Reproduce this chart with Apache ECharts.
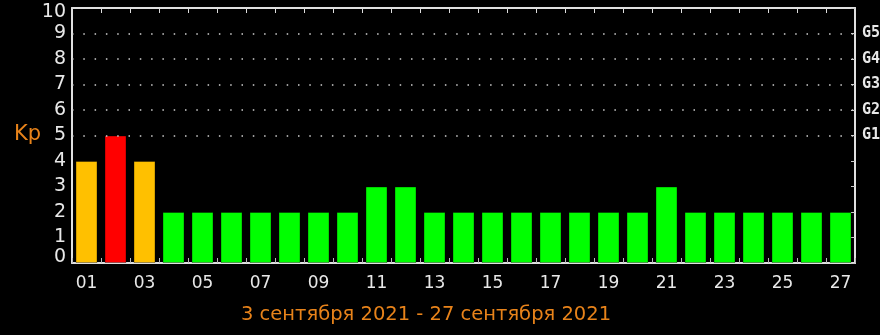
<!DOCTYPE html>
<html>
<head>
<meta charset="utf-8">
<script src="https://cdn.jsdelivr.net/npm/echarts@6/dist/echarts.min.js"></script>
<style>
html,body{margin:0;padding:0;background:#000;}
#chart{width:880px;height:335px;}
</style>
</head>
<body>
<div id="chart"></div>
<script>
const days = ['01','02','03','04','05','06','07','08','09','10','11','12','13','14','15','16','17','18','19','20','21','22','23','24','25','26','27'];
const kpValues = [4,5,4,2,2,2,2,2,2,2,3,3,2,2,2,2,2,2,2,2,3,2,2,2,2,2,2];
const gLevels = {5:'G1',6:'G2',7:'G3',8:'G4',9:'G5'};
const gridValues = [5,6,7,8,9];
const dateRangeText = '3 сентября 2021 - 27 сентября 2021';
const yLabel = 'Kp';

const chart = echarts.init(document.getElementById('chart'));
function barColor(v){
  if (v >= 5) return '#FF0000';
  if (v >= 4) return '#FFC000';
  return '#00FF00';
}
const orange = '#E8831A';
chart.setOption({
  backgroundColor: '#000',
  animation: false,
  title: {
    text: dateRangeText,
    left: 236,
    top: 300,
    textStyle: {color: orange, fontFamily: 'DejaVu Sans', fontSize: 19.5, fontWeight: 'normal'}
  },
  graphic: [{
    type: 'text', left: 14, top: 124,
    style: {text: yLabel, fill: orange, font: '21px "DejaVu Sans"'}
  }],
  grid: {left: 72, right: 25, top: 8, bottom: 72, containLabel: false, outerBoundsMode: 'none'},
  xAxis: [{
    type: 'category', data: days, position: 'bottom',
    axisLine: {show: true, onZero: false, lineStyle: {color: '#e0e0e0', width: 2}},
    axisTick: {show: true, inside: true, length: 5, alignWithLabel: false, interval: 0, lineStyle: {color: '#bbb', width: 1}},
    axisLabel: {interval: 1, color: '#e8e8e8', fontFamily: 'DejaVu Sans', fontSize: 17, margin: 12},
    splitLine: {show: false}
  },{
    type: 'category', data: days, position: 'top',
    axisLine: {show: true, onZero: false, lineStyle: {color: '#e0e0e0', width: 2}},
    axisTick: {show: true, inside: true, length: 5, interval: 0, lineStyle: {color: '#ddd', width: 1}},
    axisLabel: {show: false},
    splitLine: {show: false}
  }],
  yAxis: [{
    type: 'value', min: 0, max: 10, interval: 1, position: 'left',
    axisLine: {show: true, onZero: false, lineStyle: {color: '#e0e0e0', width: 2}},
    axisTick: {show: false},
    splitLine: {show: false},
    axisLabel: {
      color: '#e8e8e8', fontFamily: 'DejaVu Sans', fontSize: 19, margin: 6,
      formatter: function(v){
        if (v === 0) return '{lo|' + v + '}';
        if (v === 10) return '{hi|' + v + '}';
        return '{n|' + v + '}';
      },
      rich: {
        n: {color: '#e8e8e8', fontFamily: 'DejaVu Sans', fontSize: 19},
        lo: {color: '#e8e8e8', fontFamily: 'DejaVu Sans', fontSize: 19, padding: [0,0,12,0]},
        hi: {color: '#e8e8e8', fontFamily: 'DejaVu Sans', fontSize: 19, padding: [8,0,0,0]}
      }
    }
  },{
    type: 'value', min: 0, max: 10, interval: 1, position: 'right',
    axisLine: {show: true, onZero: false, lineStyle: {color: '#e0e0e0', width: 2}},
    axisTick: {show: true, inside: true, length: 4, lineStyle: {color: '#ccc', width: 1}},
    splitLine: {show: false},
    axisLabel: {
      color: '#e8e8e8', fontFamily: 'DejaVu Sans Mono', fontWeight: 'bold', fontSize: 15, margin: 7,
      formatter: function(v){ return gLevels[v] || ''; }
    }
  }],
  series: [{
    type: 'bar',
    data: kpValues.map(v => ({value: v, itemStyle: {color: barColor(v)}})),
    barWidth: 22,
    itemStyle: {borderColor: 'rgba(0,0,0,0.35)', borderWidth: 1},
    markLine: {
      silent: true, symbol: 'none', label: {show: false},
      lineStyle: {color: '#cfcfcf', type: [1.5, 9.8], width: 1.5},
      data: gridValues.map(v => ({yAxis: v}))
    }
  }]
});
</script>
</body>
</html>
